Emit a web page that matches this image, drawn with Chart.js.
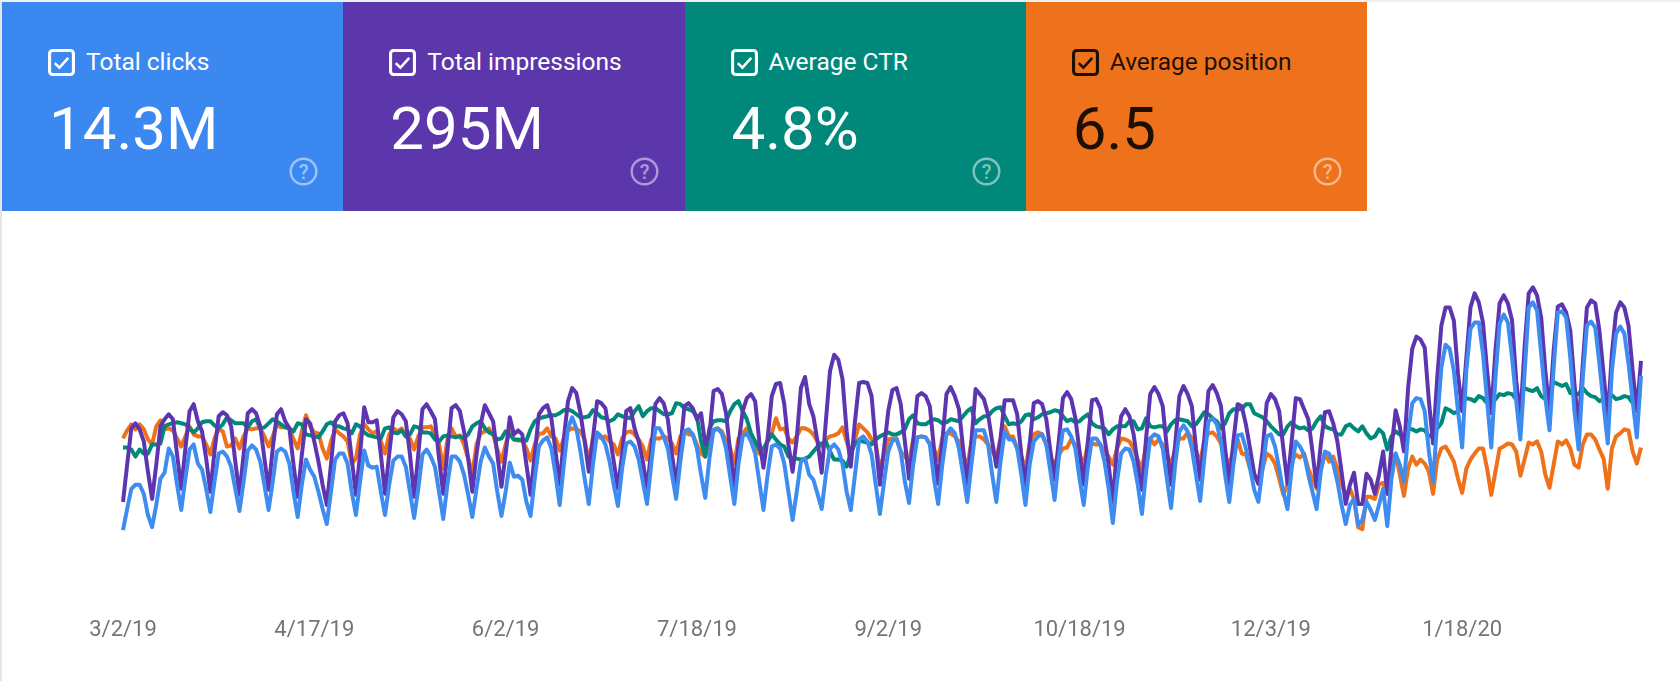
<!DOCTYPE html>
<html lang="en">
<head>
<meta charset="UTF-8">
<title>Search performance</title>
<script src="https://cdn.jsdelivr.net/npm/chart.js@4.4.0/dist/chart.umd.min.js"></script>
<style>
    html, body { margin: 0; background: #fff; }
    body { width: 1680px; height: 681px; position: relative; overflow: hidden; font-family: Roboto, sans-serif; }
    #edge { position: absolute; left: 0; top: 0; width: 2px; height: 681px; background: #e4e6e8; }
    #topEdge { position: absolute; left: 0; top: 0; width: 1680px; height: 2px; background: #eef0f2; }
    #tiles { position: absolute; left: 2px; top: 2px; display: flex; height: 209px; }
    .tile { width: 341.25px; height: 209px; position: relative; color: #fff; }
    .tile svg.box { position: absolute; left: 46px; top: 47px; width: 27px; height: 27px; }
    .tile .name { position: absolute; left: 84px; top: 44px; font-size: 24.5px; line-height: 32px; white-space: nowrap; }
    .tile .num { position: absolute; left: 47px; top: 91px; font-size: 60px; line-height: 72px; font-weight: 400; white-space: nowrap; }
    .tile svg.help { position: absolute; left: 287px; top: 155px; width: 29px; height: 29px; }
    canvas { position: absolute; left: 0; top: 0; }
</style>
</head>
<body>
<div id="edge"></div>
<div id="topEdge"></div>
<div id="tiles"></div>
<canvas id="perfChart" width="1680" height="681"></canvas>
<script>
    // x axis, one label every 46 days from 3/2/19
    const tickLabels = ['3/2/19', '4/17/19', '6/2/19', '7/18/19', '9/2/19', '10/18/19', '12/3/19', '1/18/20'];
    const tickStep = 46;

    // daily values, each metric on a shared relative scale
    const clicks = [
        62,83,103,107,107,98,77,65,87,113,119,143,135,107,82,113,142,147,128,122,103,80,110,138,140,135,125,103,81,110,
        141,146,142,130,107,82,110,140,143,140,128,100,75,107,132,122,115,100,83,68,100,132,138,138,128,100,77,110,141,126,
        124,125,100,77,107,131,135,135,125,100,74,103,137,142,135,125,100,73,107,135,135,130,117,97,75,103,130,
        144,135,128,100,76,100,129,115,116,112,90,76,113,145,151,154,143,117,87,127,163,174,163,140,113,88,127,159,155,147,
        130,107,86,123,148,150,145,132,110,88,127,163,163,155,143,117,93,130,160,162,157,143,117,94,133,162,163,158,143,115,
        88,128,155,158,150,138,110,82,117,145,147,143,128,100,72,100,130,133,117,112,98,83,117,143,147,142,128,100,82,117,152,
        155,150,137,107,78,110,140,151,152,140,110,89,127,154,155,154,147,113,88,127,157,163,158,143,117,90,127,161,161,161,
        147,117,90,130,160,152,152,143,117,87,127,150,155,157,147,120,92,133,161,162,155,143,113,87,125,153,153,147,130,103,
        69,110,138,143,142,130,107,78,120,153,157,155,143,113,84,127,160,166,160,143,117,91,133,170,173,167,150,117,90,127,156,
        157,143,123,102,90,123,155,157,145,123,100,83,123,150,145,137,117,100,83,120,140,138,128,110,87,68,87,93,67,72,
        90,82,72,87,103,66,113,138,127,110,157,188,193,192,180,140,110,170,223,246,242,220,180,144,220,262,268,268,237,190,
        144,213,267,276,268,233,190,152,217,283,288,280,237,193,161,223,278,279,273,233,180,142,213,265,269,263,227,187,148,220,
        257,264,257,227,190,154,215
    ];
    const impressions = [
        90,127,163,168,162,150,120,93,127,165,172,177,172,137,103,143,180,187,170,160,133,100,140,175,179,176,165,130,97,137,
        178,182,178,165,133,102,143,177,182,170,163,127,95,137,172,168,150,130,107,87,127,170,176,178,168,133,97,137,184,169,
        169,171,137,98,137,174,180,177,170,137,95,137,182,187,180,172,133,98,140,183,186,180,160,133,100,137,167,
        186,178,170,137,105,137,174,157,161,157,127,97,137,177,183,186,173,140,107,153,190,203,198,178,150,120,153,190,188,183,
        157,130,103,137,180,183,163,150,130,103,140,187,193,188,172,137,107,143,185,188,183,172,178,147,157,200,202,197,178,140,
        103,147,180,193,197,190,150,124,153,195,207,208,187,147,120,153,203,214,187,175,150,119,170,220,236,231,212,160,125,170,208,
        209,208,195,147,107,143,180,201,203,187,150,113,150,195,198,195,185,143,108,150,197,204,195,182,143,107,150,202,197,192,
        177,150,125,153,191,191,191,177,137,106,147,188,190,187,172,140,112,150,193,199,192,173,140,107,150,191,192,183,153,127,
        90,143,175,182,175,157,127,102,153,197,204,197,185,143,107,147,195,205,197,185,143,112,153,200,206,198,185,143,107,150,187,
        185,167,143,118,108,140,188,197,192,180,143,108,150,193,192,182,172,140,105,147,179,180,168,150,120,88,107,119,88,88,
        118,112,98,117,140,98,143,181,165,140,203,242,254,251,243,190,148,213,265,283,283,270,217,180,233,283,297,288,268,220,
        178,240,287,295,287,270,210,173,243,297,303,295,273,220,180,240,284,286,278,260,207,163,227,283,290,287,260,217,173,237,
        278,288,283,265,220,180,230
    ];
    const ctr = [
        144,144,142,135,142,138,138,147,147,148,165,167,168,169,168,167,163,159,163,169,170,170,166,163,167,174,171,168,168,168,
        164,170,172,163,164,168,172,170,167,164,163,160,168,167,157,156,155,154,160,167,169,165,165,163,162,158,167,165,159,156,
        155,154,153,163,164,159,158,161,155,157,165,164,159,159,158,152,150,155,156,155,154,155,153,157,165,168,170,
        163,159,157,152,153,160,157,152,152,151,151,162,170,173,174,175,176,176,178,181,182,180,177,174,174,175,181,178,174,173,
        170,172,177,175,174,173,180,185,175,180,183,183,180,177,177,178,188,187,183,182,180,175,150,135,163,170,171,171,170,180,
        187,190,180,172,158,150,142,143,150,157,152,147,145,135,133,133,132,133,135,140,145,148,150,140,132,132,131,125,138,148,151,
        150,149,147,152,155,157,159,157,157,159,162,172,176,168,167,167,170,172,171,168,169,172,171,170,175,180,183,168,172,175,
        175,180,183,184,175,167,168,167,170,176,177,172,174,177,178,179,181,180,175,170,172,169,170,174,177,168,165,164,163,157,
        162,165,165,165,170,170,162,163,173,165,164,165,165,160,167,171,172,171,170,165,167,173,179,177,173,170,163,168,178,182,182,
        182,187,187,178,176,174,170,165,161,157,157,165,169,165,163,164,161,163,170,175,165,163,162,157,157,165,167,163,160,165,
        158,153,155,162,158,142,155,160,157,155,163,162,160,162,161,155,157,163,168,183,181,178,180,188,193,192,190,195,193,188,
        187,192,197,196,198,197,192,195,203,201,200,203,195,192,198,209,207,205,207,198,197,197,203,198,195,194,190,192,192,196,
        192,193,195,194,188,195,197
    ];
    const position = [
        153,161,167,162,167,162,152,147,165,171,162,163,161,153,145,155,165,157,155,155,147,137,153,162,160,145,146,153,143,155,
        163,162,163,163,155,145,155,167,164,164,163,152,143,160,176,165,159,158,143,133,150,162,158,155,150,128,133,157,167,162,
        158,160,150,138,157,163,160,163,155,153,142,155,164,164,165,157,147,123,152,163,155,156,147,133,118,147,158,
        160,163,157,142,130,147,160,152,151,151,143,131,147,158,158,163,155,153,141,153,161,163,162,160,152,130,153,156,153,155,
        150,147,137,153,159,160,157,152,145,132,152,153,153,155,153,148,138,155,160,157,157,147,138,135,150,160,163,160,150,143,
        128,153,158,163,153,147,138,138,152,158,173,162,163,153,149,155,163,163,161,157,150,145,152,155,156,158,164,150,138,152,167,
        163,159,152,147,122,137,152,153,153,140,135,130,152,154,155,154,148,143,132,153,158,158,155,150,137,125,150,155,155,152,
        147,140,133,153,165,155,155,143,135,123,148,157,159,157,147,135,127,137,143,144,152,147,137,127,147,148,147,147,140,135,
        127,143,153,152,150,143,132,122,147,153,147,152,147,137,127,143,153,153,159,153,140,130,150,158,159,155,148,137,125,143,152,
        138,137,123,117,108,123,138,135,128,113,97,107,130,137,134,138,123,113,103,123,138,130,135,123,107,97,103,93,65,63,
        95,95,93,107,109,98,130,138,117,96,123,135,127,132,128,120,98,132,143,145,138,130,113,99,123,132,138,143,143,123,
        97,120,143,145,148,147,140,116,132,149,147,150,140,117,104,127,150,147,151,143,127,124,147,157,157,152,142,133,103,143,
        155,158,162,161,140,128,144
    ];

    // summary tiles above the plot
    const tileNames = ['Total clicks', 'Total impressions', 'Average CTR', 'Average position'];
    const tileValues = ['14.3M', '295M', '4.8%', '6.5'];
    const tileColors = ['#3c88f1', '#5c37ab', '#00897b', '#ee721b'];
    const tileInk = ['#fff', '#fff', '#fff', '#1e0f03'];

    const tiles = document.getElementById('tiles');
    tileNames.forEach((name, i) => {
        const ink = tileInk[i];
        const tile = document.createElement('div');
        tile.className = 'tile';
        tile.style.background = tileColors[i];
        tile.style.color = ink;
        tile.innerHTML = `
            <svg class="box" viewBox="0 0 26 26">
                <rect x="1.5" y="1.5" width="23" height="23" rx="3" fill="none" stroke="${ink}" stroke-width="3"/>
                <path d="M6.5 13.5l4.5 4.5 8.5-9.5" fill="none" stroke="${ink}" stroke-width="2.4"/>
            </svg>
            <div class="name">${name}</div>
            <div class="num">${tileValues[i]}</div>
            <svg class="help" viewBox="0 0 29 29">
                <circle cx="14.5" cy="14.5" r="12.8" fill="none" stroke="rgba(255,255,255,.5)" stroke-width="2.4"/>
                <text x="14.5" y="21.5" text-anchor="middle" font-size="20" font-weight="500" fill="rgba(255,255,255,.5)" font-family="Roboto">?</text>
            </svg>`;
        tiles.appendChild(tile);
    });

    // one label per day; only every 46th is shown
    const days = clicks.map((_, i) => i);

    function lineSet(label, data, color) {
        return {
            label, data,
            borderColor: color,
            borderWidth: 4,
            borderJoinStyle: 'round',
            pointRadius: 0,
            tension: 0
        };
    }

    new Chart(document.getElementById('perfChart'), {
        type: 'line',
        data: {
            labels: days,
            // first dataset ends up on top
            datasets: [
                lineSet('Total clicks', clicks, '#3f8cf0'),
                lineSet('Total impressions', impressions, '#5e35b1'),
                lineSet('Average CTR', ctr, '#00897b'),
                lineSet('Average position', position, '#ef7119')
            ]
        },
        options: {
            responsive: false,
            animation: false,
            layout: { padding: { left: 123, right: 39, top: 250, bottom: 20 } },
            plugins: { legend: { display: false }, tooltip: { enabled: false } },
            scales: {
                y: { display: false, min: 0, max: 340 },
                x: {
                    offset: false,
                    border: { display: false },
                    grid: { display: false },
                    ticks: {
                        autoSkip: false,
                        maxRotation: 0,
                        padding: 17,
                        color: '#757575',
                        font: { family: 'Roboto', size: 22 },
                        callback: value => value % tickStep === 0 ? tickLabels[value / tickStep] : null
                    }
                }
            }
        }
    });
</script>
</body>
</html>
